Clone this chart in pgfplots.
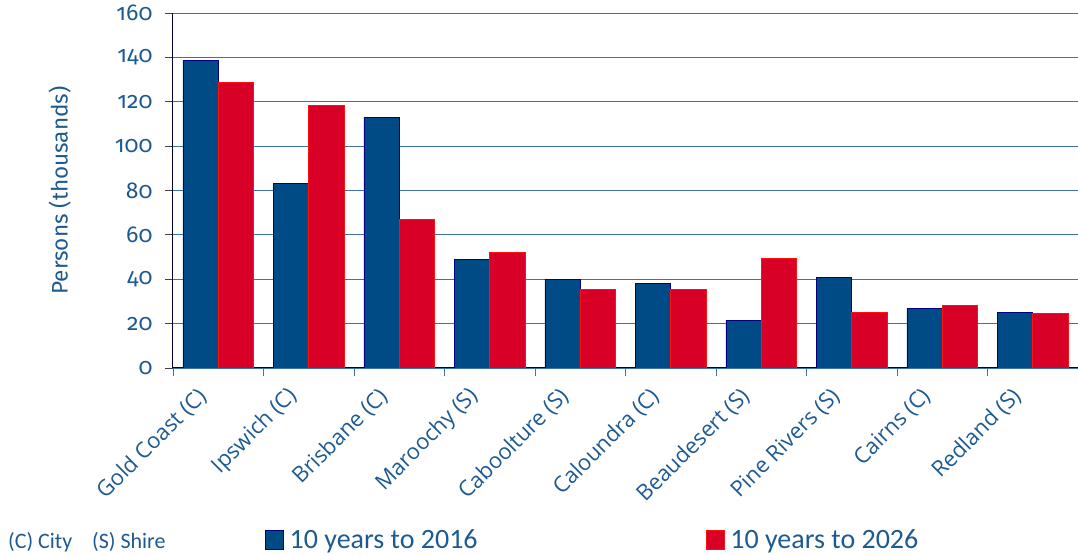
\documentclass[border=0pt]{standalone}
\usepackage{pgfplots}
\pgfplotsset{compat=1.18}
\usepackage{fontspec}
\setmainfont{Open Sans}
\newfontfamily\tickfont[Numbers=OldStyle]{Fira Sans}
\newfontfamily\legfont{Carlito}
\definecolor{txtblue}{HTML}{1D5A93}
\definecolor{gridblue}{HTML}{3D73A8}
\definecolor{barblue}{HTML}{004A86}
\definecolor{edgeblue}{HTML}{000080}
\definecolor{barred}{HTML}{D80027}
\definecolor{edgered}{HTML}{FF1010}

\begin{document}
\begin{tikzpicture}
\path[use as bounding box] (-173pt,-188pt) rectangle (905pt,368pt);
\begin{axis}[
    at={(0pt,0pt)}, anchor=south west,
    scale only axis,
    width=905pt, height=355pt,
    ymin=0, ymax=160,
    ytick={0,20,...,160},
    xmin=-0.5, xmax=9.5,
    xtick={0,...,9},
    xticklabels={Gold Coast (C), Ipswich (C), Brisbane (C), Maroochy (S),
        Caboolture (S), Caloundra (C), Beaudesert (S), Pine Rivers (S),
        Cairns (C), Redland (S)},
    minor xtick={-0.5,0.5,...,9.5},
    major x tick style={draw=none},
    minor x tick style={draw=gridblue, line width=0.9pt},
    major y tick style={draw=black!75, line width=0.9pt},
    major tick length=8pt, minor tick length=8pt,
    tick align=outside,
    axis x line*=bottom, axis y line*=left,
    axis line style={draw=black!80!blue, line width=1pt, -},
    ymajorgrids,
    major grid style={draw=gridblue, line width=0.9pt},
    ybar=0pt, bar width=0.39,
    /pgf/number format/assume math mode=true,
    yticklabel style={font=\tickfont\fontsize{23}{25}\selectfont, text=txtblue, xshift=-9pt},
    xticklabel style={font=\fontsize{22}{24}\selectfont, text=txtblue,
        xshift=-20pt, yshift=-13pt, rotate=45, anchor=east, yshift=-6pt, xshift=4pt},
    ylabel={Persons (thousands)},
    every axis y label/.style={at={(axis description cs:-0.125,0.5)}, rotate=90, anchor=center,
        font=\tickfont\fontsize{22.5}{25}\selectfont, text=txtblue},
    legend style={at={(axis description cs:0.098,-0.485)}, anchor=west, draw=none, fill=none,
        font=\legfont\fontsize{28}{30}\selectfont, text=txtblue,
        /tikz/every even column/.append style={column sep=226pt}},
    legend columns=2,
    legend image code/.code={\draw[#1] (0pt,-9pt) rectangle (18pt,10pt);},
]
\addplot[fill=barblue, draw=edgeblue, line width=0.8pt] coordinates {
    (0,138.5) (1,83) (2,113) (3,49) (4,40) (5,38.3) (6,21.6) (7,41) (8,26.7) (9,25.2)};
\addplot[fill=barred, draw=edgered, line width=0.8pt] coordinates {
    (0,128.5) (1,118.5) (2,67) (3,52) (4,35.5) (5,35.5) (6,49.2) (7,25.2) (8,28) (9,24.6)};
\legend{\hspace{4pt}10 years to 2016, \hspace{4pt}10 years to 2026}
\end{axis}
\node[anchor=west, font=\legfont\fontsize{22}{24}\selectfont, text=txtblue, inner sep=0pt]
    at (-165pt,-174pt) {(C) City\hspace{0.9em}(S) Shire};
\end{tikzpicture}
\end{document}
